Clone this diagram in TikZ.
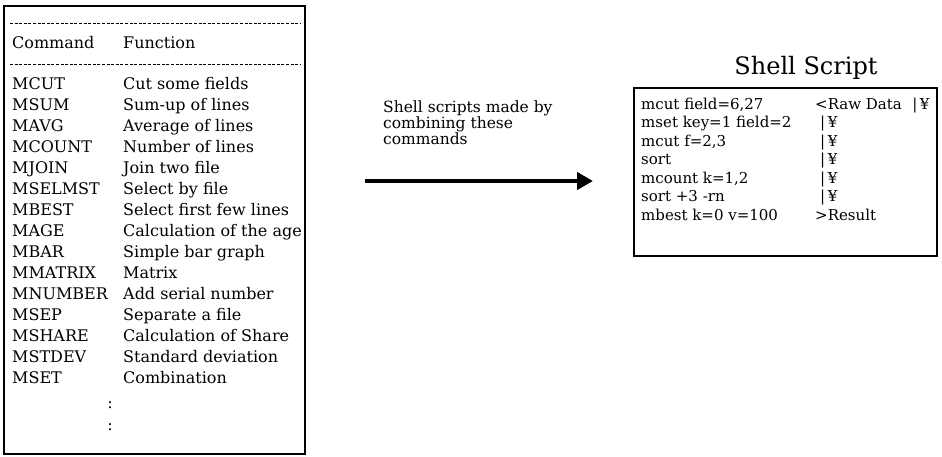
\documentclass[tikz,border=0pt]{standalone}
\usepackage{fontspec}
\setmainfont{DejaVu Serif}
\usetikzlibrary{arrows.meta}
\begin{document}
\begin{tikzpicture}[x=1pt,y=-1pt,
  boxframe/.style={draw=black,line width=1.3pt},
  dashrule/.style={draw=black,line width=0.9pt,dash pattern=on 3pt off 1.6pt},
  tabtxt/.style={anchor=base west,inner sep=0pt,font=\fontsize{16}{19}\selectfont},
  scrtxt/.style={anchor=base west,inner sep=0pt,font=\fontsize{15}{18}\selectfont},
  midtxt/.style={anchor=base west,inner sep=0pt,font=\fontsize{15.5}{18}\selectfont},
  bigarrow/.style={line width=4pt,-{Triangle[length=16pt,width=17pt]}}]
\useasboundingbox (0,0) rectangle (942,456);
% left table
\draw[boxframe] (4,6) rectangle (305,454);
\coordinate (d1a) at (10,23); \coordinate (d1b) at (300,23);
\coordinate (d2a) at (10,64); \coordinate (d2b) at (300,64);
\draw[dashrule] (d1a) -- (d1b);
\draw[dashrule] (d2a) -- (d2b);
\node[tabtxt] (hc) at (12,48) {Command};
\node[tabtxt] (hf) at (123,48) {Function};
\foreach \c/\f [count=\i from 0] in {MCUT/Cut some fields,MSUM/Sum-up of lines,MAVG/Average of lines,MCOUNT/Number of lines,MJOIN/Join two file,MSELMST/Select by file,MBEST/Select first few lines,MAGE/Calculation of the age,MBAR/Simple bar graph,MMATRIX/Matrix,MNUMBER/Add serial number,MSEP/Separate a file,MSHARE/Calculation of Share,MSTDEV/Standard deviation,MSET/Combination}{
  \node[tabtxt] (c\i) at (12,89+21.07*\i) {\c};
  \node[tabtxt] (f\i) at (123,89+21.07*\i) {\f};
}
\node[tabtxt,anchor=base] (dots1) at (110,408) {:};
\node[tabtxt,anchor=base] (dots2) at (110,430) {:};
% middle
\node[midtxt] (m1) at (383,112) {Shell scripts made by};
\node[midtxt] (m2) at (383,128) {combining these};
\node[midtxt] (m3) at (383,144) {commands};
\coordinate (arA) at (365,181);
\coordinate (arB) at (593,181);
\draw[bigarrow] (arA) -- (arB);
% right
\node[anchor=base,inner sep=0pt,font=\fontsize{24}{28}\selectfont] (title) at (806,74) {Shell Script};
\draw[boxframe] (634,88) rectangle (937,256);
\foreach \a/\b/\xb [count=\i from 0] in {mcut field=6{,}27/{<Raw Data\hspace{0.7em}|\,¥}/815,mset key=1 field=2/|\,¥/820,mcut f=2{,}3/|\,¥/820,sort/|\,¥/820,mcount k=1{,}2/|\,¥/820,sort +3 -rn/|\,¥/820,mbest k=0 v=100/{>Result}/815}{
  \node[scrtxt] (s\i) at (641,109+18.5*\i) {\a};
  \node[scrtxt] (r\i) at (\xb,109+18.5*\i) {\b};
}
\end{tikzpicture}
\end{document}
